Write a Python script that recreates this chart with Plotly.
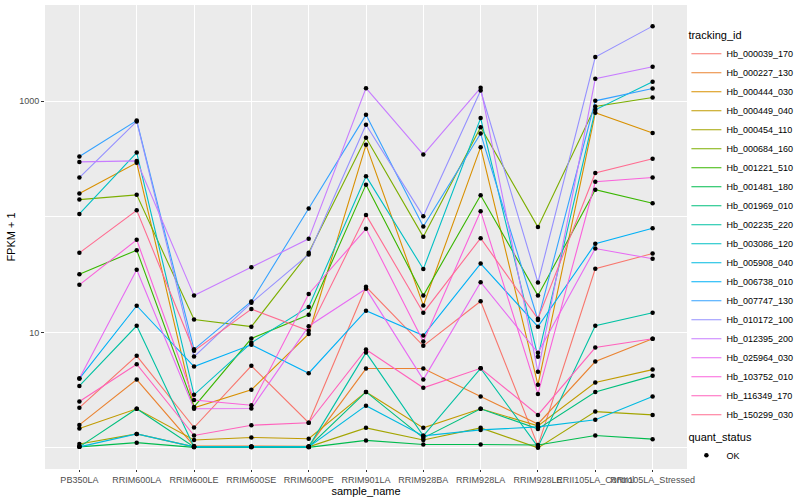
import plotly.graph_objects as go

samples = ["PB350LA", "RRIM600LA", "RRIM600LE", "RRIM600SE", "RRIM600PE",
           "RRIM901LA", "RRIM928BA", "RRIM928LA", "RRIM928LE",
           "RRII105LA_Control", "RRII105LA_Stressed"]

Hb_000039_170 = [2.23, 6.26, 1.50, 5.13, 1.65, 24.8, 7.64, 18.6, 1.04, 35.5, 48.1]
Hb_000227_130 = [1.58, 3.90, 1.04, 1.03, 1.03, 4.86, 4.86, 2.78, 1.61, 5.59, 8.79]
Hb_000444_030 = [159, 294, 2.22, 3.18, 9.70, 420, 17.1, 401, 3.51, 795, 531]
Hb_000449_040 = [1.47, 2.18, 1.17, 1.23, 1.20, 3.05, 1.49, 2.18, 1.55, 3.68, 4.76]
Hb_000454_110 = [1.08, 1.32, 1.02, 1.02, 1.02, 1.49, 1.17, 1.49, 1.00, 2.06, 1.93]
Hb_000684_160 = [141, 155, 12.9, 11.2, 48.8, 483, 67.1, 598, 81.5, 902, 1079]
Hb_001221_510 = [31.9, 51.5, 2.26, 8.84, 14.2, 190, 20.8, 154, 20.8, 172, 131]
Hb_001481_180 = [1.02, 1.11, 1.01, 1.01, 1.01, 1.16, 1.07, 1.07, 1.06, 1.28, 1.19]
Hb_001969_010 = [1.02, 2.18, 1.02, 1.02, 1.02, 3.05, 1.22, 2.18, 1.46, 3.04, 4.20]
Hb_002235_220 = [3.44, 11.4, 1.02, 1.02, 1.02, 6.68, 1.27, 4.88, 1.02, 11.4, 14.8]
Hb_003086_120 = [106, 360, 2.88, 8.11, 16.6, 225, 35.3, 716, 6.14, 844, 1475]
Hb_005908_040 = [1.02, 1.32, 1.02, 1.02, 1.02, 2.32, 1.27, 1.43, 1.52, 1.75, 2.78]
Hb_006738_010 = [3.98, 17.0, 5.06, 7.80, 4.43, 15.4, 9.38, 39.4, 11.2, 58.4, 79.8]
Hb_007747_130 = [333, 682, 7.13, 18.5, 118, 764, 82.4, 526, 12.8, 1010, 1291]
Hb_010172_100 = [219, 670, 6.17, 18.0, 47.2, 626, 101, 1241, 27.0, 2414, 4478]
Hb_012395_200 = [299, 305, 20.8, 36.7, 64.5, 1301, 346, 1309, 4.55, 1567, 1990]
Hb_025964_030 = [3.98, 34.8, 2.18, 2.19, 11.3, 23.8, 3.90, 27.2, 6.65, 53.2, 43.3]
Hb_103752_010 = [25.8, 63.2, 2.60, 2.34, 21.5, 78.7, 8.32, 112, 2.93, 201, 219]
Hb_116349_170 = [2.52, 5.30, 1.28, 1.57, 1.65, 7.10, 3.31, 4.88, 1.93, 7.39, 8.79]
Hb_150299_030 = [48.8, 114, 6.92, 15.9, 10.3, 104, 14.8, 65.4, 13.1, 240, 318]

tracking_ids = ["Hb_000039_170", "Hb_000227_130", "Hb_000444_030", "Hb_000449_040",
                "Hb_000454_110", "Hb_000684_160", "Hb_001221_510", "Hb_001481_180",
                "Hb_001969_010", "Hb_002235_220", "Hb_003086_120", "Hb_005908_040",
                "Hb_006738_010", "Hb_007747_130", "Hb_010172_100", "Hb_012395_200",
                "Hb_025964_030", "Hb_103752_010", "Hb_116349_170", "Hb_150299_030"]
series = [Hb_000039_170, Hb_000227_130, Hb_000444_030, Hb_000449_040,
          Hb_000454_110, Hb_000684_160, Hb_001221_510, Hb_001481_180,
          Hb_001969_010, Hb_002235_220, Hb_003086_120, Hb_005908_040,
          Hb_006738_010, Hb_007747_130, Hb_010172_100, Hb_012395_200,
          Hb_025964_030, Hb_103752_010, Hb_116349_170, Hb_150299_030]
colors = ["#F8766D", "#EA8331", "#D89000", "#C09B00", "#A3A500", "#7CAE00",
          "#39B600", "#00BB4E", "#00BF7D", "#00C1A3", "#00BFC4", "#00BAE0",
          "#00B0F6", "#35A2FF", "#9590FF", "#C77CFF", "#E76BF3", "#FA62DB",
          "#FF62BC", "#FF6C91"]

FONT = "Liberation Sans, Arial, sans-serif"

fig = go.Figure()
for name, vals, col in zip(tracking_ids, series, colors):
    fig.add_trace(go.Scatter(x=samples, y=vals, mode="lines", name=name,
                             line=dict(color=col, width=1.1), legend="legend"))

all_x = []
all_y = []
for vals in series:
    all_x += samples
    all_y += vals
fig.add_trace(go.Scatter(x=all_x, y=all_y, mode="markers", name="OK",
                         marker=dict(color="black", size=4.5, symbol="circle"),
                         legend="legend2"))

fig.update_layout(
    width=800, height=500,
    margin=dict(l=45, r=113, t=5, b=31, autoexpand=False),
    paper_bgcolor="white", plot_bgcolor="#EBEBEB",
    font=dict(family=FONT, size=9, color="#4D4D4D"),
    showlegend=True,
    legend=dict(
        title=dict(text="tracking_id", font=dict(size=11, color="black")),
        xref="container", yref="container",
        x=0.858, xanchor="left", y=0.95, yanchor="top",
        font=dict(size=9, color="black"), bgcolor="rgba(0,0,0,0)",
        tracegroupgap=0, itemwidth=30, maxheight=480,
    ),
    legend2=dict(
        title=dict(text="quant_status", font=dict(size=11, color="black")),
        xref="container", yref="container",
        x=0.858, xanchor="left", y=0.147, yanchor="top",
        font=dict(size=9, color="black"), bgcolor="rgba(0,0,0,0)",
        itemwidth=30, maxheight=100,
    ),
    xaxis=dict(
        type="category", range=[-0.6, 10.6], automargin=False,
        showgrid=True, gridcolor="white", gridwidth=1.1,
        ticks="outside", ticklen=2, tickcolor="#333333",
        tickangle=0, tickfont=dict(size=9, color="#4D4D4D"),
        zeroline=False, showline=False,
        title=dict(text="sample_name", font=dict(size=11, color="black"), standoff=2),
    ),
    yaxis=dict(
        type="log", range=[-0.183, 3.834], automargin=False,
        tickvals=[10, 1000], ticktext=["10", "1000"],
        showgrid=True, gridcolor="white", gridwidth=1.1,
        minor=dict(tickvals=[1, 100], showgrid=True, gridcolor="white",
                   gridwidth=0.55, ticklen=0),
        ticks="outside", ticklen=3, tickcolor="#333333",
        tickfont=dict(size=9, color="#4D4D4D"),
        zeroline=False, showline=False,
        title=dict(text="FPKM + 1", font=dict(size=11, color="black"), standoff=1),
    ),
)

fig.write_html("out.html", config={"displayModeBar": False},
               post_script="document.body.style.margin='0';")
